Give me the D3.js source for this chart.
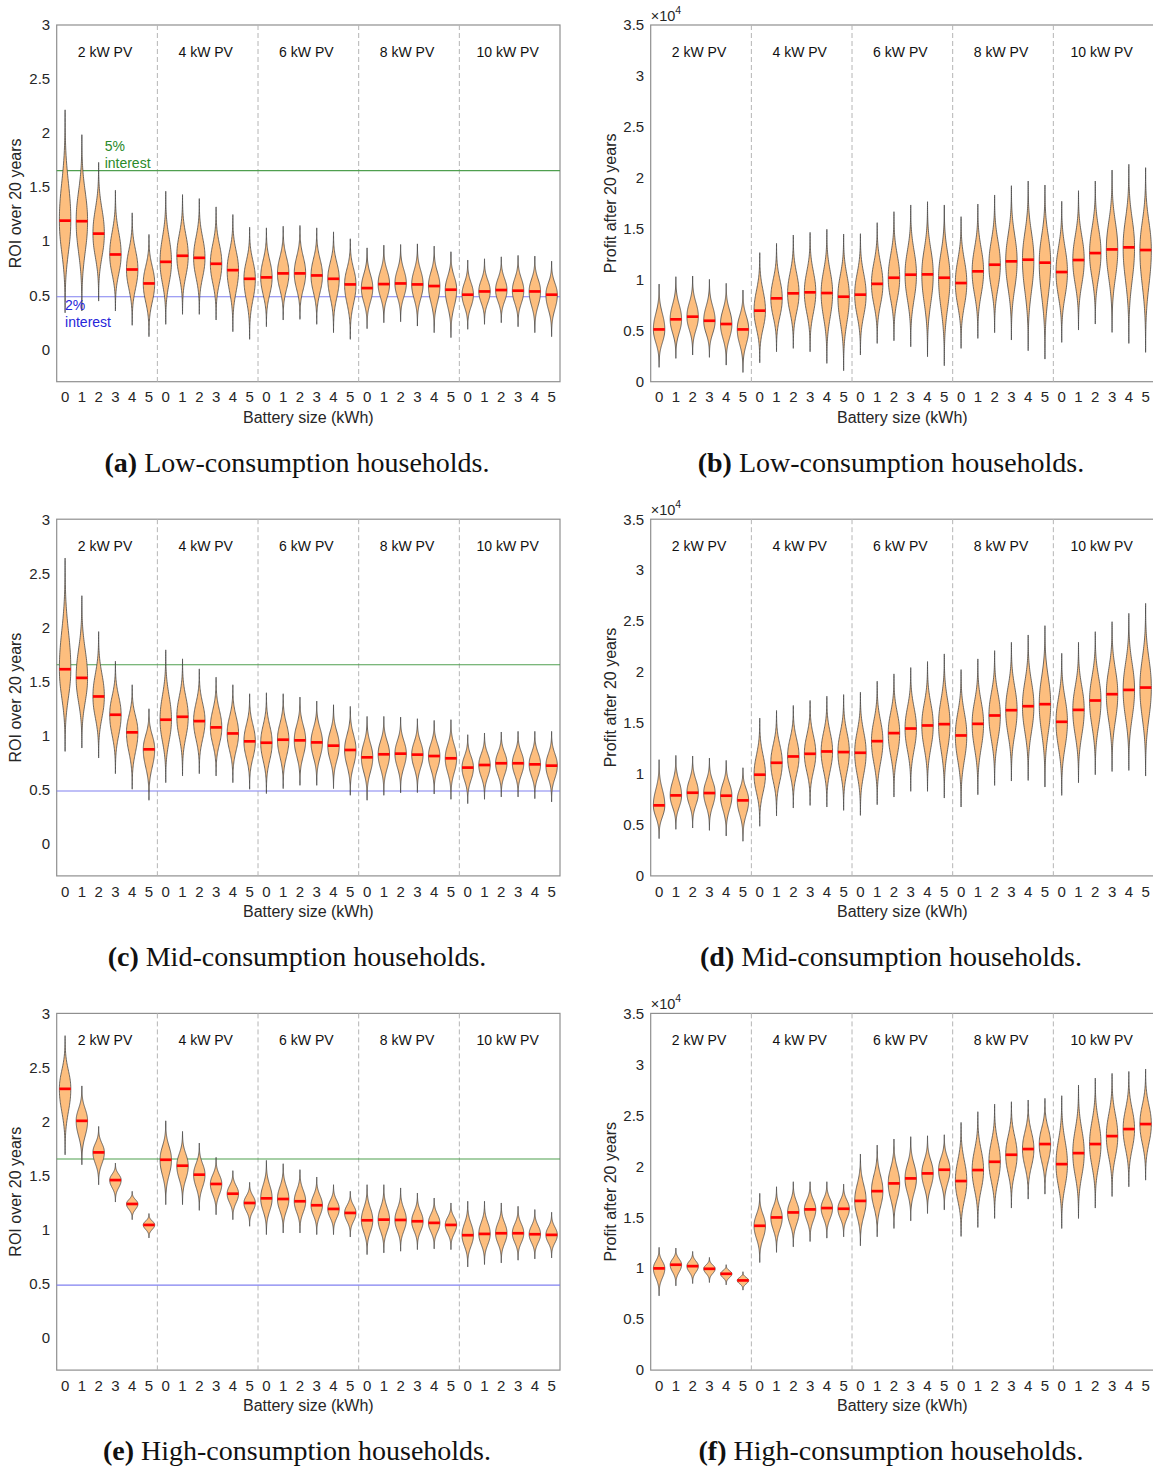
<!DOCTYPE html>
<html><head><meta charset="utf-8">
<script src="https://cdn.jsdelivr.net/npm/d3@7"></script>
<style>body{margin:0;background:#fff;} svg{display:block;}</style>
</head><body><svg id="c" width="1153" height="1467"></svg>
<script>
// ---------- categories & ticks ----------
const batteries = ["0","1","2","3","4","5"];
const pvGroups = ["2 kW PV","4 kW PV","6 kW PV","8 kW PV","10 kW PV"];
const roiTicks = [0,0.5,1,1.5,2,2.5,3];
const profitTicks = [0,0.5,1,1.5,2,2.5,3,3.5]; // in units of 10^4
const interest5 = 1.653, interest2 = 0.486;

// ---------- (a) Low-consumption ROI ----------
const aMed = [1.190,1.185,1.070,0.877,0.738,0.609, 0.809,0.865,0.846,0.791,0.732,0.652, 0.665,0.702,0.702,0.683,0.652,0.600, 0.566,0.603,0.609,0.600,0.585,0.551, 0.505,0.535,0.548,0.542,0.535,0.505];
const aMin = [0.338,0.354,0.446,0.354,0.222,0.117, 0.231,0.323,0.323,0.271,0.163,0.092, 0.209,0.271,0.277,0.231,0.154,0.092, 0.191,0.246,0.255,0.215,0.154,0.108, 0.185,0.231,0.246,0.209,0.154,0.117];
const aMax = [2.215,1.985,1.729,1.471,1.262,1.062, 1.462,1.431,1.394,1.317,1.246,1.129, 1.123,1.138,1.145,1.123,1.086,1.022, 0.938,0.963,0.969,0.975,0.954,0.902, 0.825,0.837,0.855,0.868,0.862,0.815];
// ---------- (b) Low-consumption profit (x10^4) ----------
const bMed = [0.513,0.612,0.638,0.598,0.566,0.513, 0.697,0.818,0.867,0.877,0.870,0.834, 0.854,0.960,1.020,1.050,1.053,1.020, 0.968,1.083,1.148,1.181,1.197,1.168, 1.076,1.194,1.262,1.298,1.318,1.292];
const bMin = [0.141,0.229,0.262,0.239,0.163,0.091, 0.186,0.294,0.327,0.294,0.180,0.108, 0.262,0.376,0.402,0.343,0.245,0.157, 0.327,0.425,0.481,0.409,0.304,0.222, 0.386,0.507,0.566,0.484,0.376,0.288];
const bMax = [0.958,1.030,1.037,1.004,0.965,0.899, 1.266,1.357,1.439,1.465,1.495,1.449, 1.452,1.560,1.668,1.734,1.766,1.734, 1.619,1.743,1.832,1.923,1.969,1.930, 1.770,1.874,1.969,2.077,2.133,2.100];
// ---------- (c) Mid-consumption ROI ----------
const cMed = [1.612,1.532,1.360,1.191,1.028,0.871, 1.145,1.172,1.132,1.074,1.018,0.945, 0.932,0.960,0.954,0.935,0.905,0.865, 0.797,0.825,0.831,0.822,0.809,0.788, 0.702,0.726,0.742,0.742,0.732,0.720];
const cMin = [0.852,0.883,0.791,0.646,0.502,0.400, 0.563,0.625,0.646,0.625,0.563,0.502, 0.462,0.508,0.538,0.538,0.508,0.446, 0.400,0.446,0.468,0.471,0.458,0.409, 0.369,0.409,0.431,0.431,0.415,0.385];
const cMax = [2.640,2.292,1.960,1.686,1.468,1.246, 1.791,1.708,1.615,1.538,1.468,1.385, 1.394,1.385,1.354,1.317,1.283,1.268, 1.175,1.175,1.169,1.154,1.138,1.145, 1.006,1.022,1.031,1.037,1.037,1.037];
// ---------- (d) Mid-consumption profit (x10^4) ----------
const dMed = [0.692,0.790,0.816,0.813,0.787,0.741, 0.993,1.110,1.172,1.198,1.221,1.215, 1.208,1.322,1.401,1.446,1.476,1.489, 1.378,1.492,1.574,1.626,1.665,1.685, 1.512,1.629,1.721,1.783,1.825,1.848];
const dMin = [0.366,0.457,0.470,0.447,0.392,0.340, 0.487,0.588,0.666,0.692,0.676,0.643, 0.594,0.699,0.774,0.830,0.830,0.764, 0.676,0.797,0.888,0.931,0.937,0.872, 0.790,0.914,0.993,1.025,1.035,0.980];
const dMax = [1.140,1.182,1.176,1.156,1.133,1.061, 1.548,1.623,1.672,1.721,1.763,1.779, 1.802,1.910,1.982,2.044,2.103,2.178, 2.024,2.129,2.210,2.292,2.364,2.455, 2.184,2.292,2.396,2.494,2.576,2.674];
// ---------- (e) High-consumption ROI ----------
const eMed = [2.302,2.006,1.714,1.458,1.237,1.043, 1.646,1.591,1.508,1.422,1.332,1.246, 1.289,1.283,1.262,1.225,1.191,1.154, 1.086,1.092,1.089,1.077,1.062,1.043, 0.948,0.960,0.966,0.966,0.957,0.951];
const eMin = [1.692,1.600,1.415,1.255,1.092,0.923, 1.231,1.231,1.178,1.138,1.092,1.031, 0.954,0.969,0.969,0.954,0.954,0.932, 0.769,0.785,0.800,0.815,0.822,0.815, 0.655,0.677,0.692,0.717,0.729,0.738];
const eMax = [2.794,2.329,1.954,1.615,1.354,1.148, 2.006,1.908,1.800,1.668,1.545,1.437, 1.640,1.609,1.554,1.486,1.415,1.354, 1.415,1.415,1.385,1.338,1.292,1.246, 1.262,1.262,1.246,1.215,1.185,1.160];
// ---------- (f) High-consumption profit (x10^4) ----------
const fMed = [0.998,1.034,1.020,0.994,0.945,0.880, 1.416,1.498,1.547,1.577,1.590,1.583, 1.660,1.756,1.832,1.881,1.930,1.966, 1.855,1.963,2.044,2.113,2.169,2.218, 2.021,2.129,2.218,2.296,2.365,2.414];
const fMin = [0.729,0.827,0.850,0.860,0.837,0.785, 1.056,1.155,1.210,1.262,1.295,1.308, 1.220,1.308,1.390,1.465,1.537,1.573, 1.312,1.400,1.488,1.590,1.678,1.727, 1.390,1.488,1.590,1.704,1.799,1.864];
const fMax = [1.204,1.197,1.164,1.105,1.034,0.965, 1.734,1.799,1.848,1.848,1.848,1.825, 2.120,2.208,2.267,2.290,2.299,2.309, 2.430,2.535,2.610,2.633,2.650,2.666, 2.692,2.797,2.865,2.911,2.930,2.954];

const panels = [
  {med:aMed, lo:aMin, hi:aMax, kind:"roi", col:0, row:0, letter:"(a)", text:" Low-consumption households.", notes:true},
  {med:bMed, lo:bMin, hi:bMax, kind:"profit", col:1, row:0, letter:"(b)", text:" Low-consumption households."},
  {med:cMed, lo:cMin, hi:cMax, kind:"roi", col:0, row:1, letter:"(c)", text:" Mid-consumption households."},
  {med:dMed, lo:dMin, hi:dMax, kind:"profit", col:1, row:1, letter:"(d)", text:" Mid-consumption households."},
  {med:eMed, lo:eMin, hi:eMax, kind:"roi", col:0, row:2, letter:"(e)", text:" High-consumption households."},
  {med:fMed, lo:fMin, hi:fMax, kind:"profit", col:1, row:2, letter:"(f)", text:" High-consumption households."}
];

const svg = d3.select("#c");
const W = 503.3, H = 356.7;
const colX = [56.7, 650.7], rowY = [25, 519.2, 1013.4];
const capX = [297, 891];
const SANS = "'Liberation Sans', Arial, Helvetica, sans-serif";
const txtCol = "#262626";

panels.forEach(p => {
  const x0 = colX[p.col], y0 = rowY[p.row];
  const g = svg.append("g").attr("transform", `translate(${x0},${y0})`);
  const n = p.med.length;
  const x = d3.scaleBand().domain(d3.range(n)).range([0, W]);
  const y = d3.scaleLinear().domain(p.kind === "roi" ? [-0.3, 3] : [0, 3.5]).range([H, 0]);
  const bw = x.bandwidth();
  const halfW = bw * 0.34;

  // axes box
  g.append("rect").attr("x",0).attr("y",0).attr("width",W).attr("height",H)
    .attr("fill","none").attr("stroke","#8f8f8f").attr("stroke-width",1.2);

  // group separators
  for (let k = 1; k < pvGroups.length; k++) {
    const xs = x(k*6);
    g.append("line").attr("x1",xs).attr("x2",xs).attr("y1",0).attr("y2",H)
      .attr("stroke","#b5b5b5").attr("stroke-width",1).attr("stroke-dasharray","5,3");
  }
  // group labels
  pvGroups.forEach((lab,k) => {
    const cx = (x(k*6) + x(k*6+5) + bw) / 2;
    g.append("text").attr("x",cx-2).attr("y",32).attr("text-anchor","middle")
      .attr("font-family",SANS).attr("font-size",14).attr("fill","#111").text(lab);
  });

  // interest lines
  if (p.kind === "roi") {
    g.append("line").attr("x1",0).attr("x2",W).attr("y1",y(interest5)).attr("y2",y(interest5))
      .attr("stroke","#4f9f4f").attr("stroke-width",1.1);
    g.append("line").attr("x1",0).attr("x2",W).attr("y1",y(interest2)).attr("y2",y(interest2))
      .attr("stroke","#8080f0").attr("stroke-width",1.1);
  }

  // violins
  const area = d3.area().curve(d3.curveBasis)
    .y(d => y(d.v)).x0(d => d.c - d.w).x1(d => d.c + d.w);
  for (let i = 0; i < n; i++) {
    const c = x(i) + bw/2, m = p.med[i], lo = p.lo[i], hi = p.hi[i];
    const sUp = (hi - m)/3.0, sDn = (m - lo)/3.0;
    const pts = [];
    const N = 80;
    for (let j = 0; j <= N; j++) {
      const v = lo + (hi - lo) * j / N;
      const z = v >= m ? (v - m)/sUp : (m - v)/sDn;
      pts.push({v, c, w: halfW * Math.exp(-0.5*Math.pow(z, 2.2))});
    }
    g.append("path").attr("d", area(pts)).attr("fill","#fdbe7e")
      .attr("stroke","#474747").attr("stroke-width",0.8);
    g.append("line").attr("x1",c-halfW).attr("x2",c+halfW).attr("y1",y(m)).attr("y2",y(m))
      .attr("stroke","#ff0000").attr("stroke-width",2.7);
  }

  // x axis
  const xa = g.append("g").attr("transform",`translate(0,${H})`)
    .call(d3.axisBottom(x).tickSize(0).tickPadding(10).tickFormat(i => batteries[i % 6]));
  xa.select(".domain").remove();
  xa.selectAll("text").attr("font-family",SANS).attr("font-size",15).attr("fill",txtCol);

  // y axis
  const ya = g.append("g")
    .call(d3.axisLeft(y).tickValues(p.kind === "roi" ? roiTicks : profitTicks).tickSize(0).tickPadding(6.5)
      .tickFormat(d => String(d)));
  ya.select(".domain").remove();
  ya.selectAll("text").attr("font-family",SANS).attr("font-size",15).attr("fill",txtCol);

  // axis titles
  g.append("text").attr("x",W/2).attr("y",H+41).attr("text-anchor","middle")
    .attr("font-family",SANS).attr("font-size",16).attr("fill",txtCol).text("Battery size (kWh)");
  const ylab = p.kind === "roi" ? "ROI over 20 years" : "Profit after 20 years";
  const ylx = p.kind === "roi" ? -36 : -34.5;
  g.append("text").attr("transform",`translate(${ylx},${H/2}) rotate(-90)`).attr("text-anchor","middle")
    .attr("font-family",SANS).attr("font-size",16).attr("fill",txtCol).text(ylab);

  if (p.kind === "profit") {
    const t = g.append("text").attr("x",0).attr("y",-4).attr("font-family",SANS).attr("font-size",14.5).attr("fill",txtCol);
    t.append("tspan").text("\u00d710");
    t.append("tspan").attr("dy",-7).attr("font-size",10.5).text("4");
  }

  if (p.notes) {
    const gx = x(2) + bw/2 + 6;
    const t5 = g.append("text").attr("font-family",SANS).attr("font-size",14).attr("fill","#2a8a2a");
    t5.append("tspan").attr("x",gx).attr("y",y(interest5)-20).text("5%");
    t5.append("tspan").attr("x",gx).attr("y",y(interest5)-3).text("interest");
    const bx = x(0) + bw/2;
    const t2 = g.append("text").attr("font-family",SANS).attr("font-size",14).attr("fill","#2626d9");
    t2.append("tspan").attr("x",bx).attr("y",y(interest2)+13).text("2%");
    t2.append("tspan").attr("x",bx).attr("y",y(interest2)+30).text("interest");
  }

  // caption
  const cap = svg.append("text").attr("x",capX[p.col]).attr("y",y0 + H + 90)
    .attr("text-anchor","middle").attr("font-family","'Liberation Serif','Times New Roman',serif")
    .attr("font-size",28).attr("fill","#111");
  cap.append("tspan").attr("font-weight","bold").text(p.letter);
  cap.append("tspan").text(p.text);
});
</script>
</body></html>
